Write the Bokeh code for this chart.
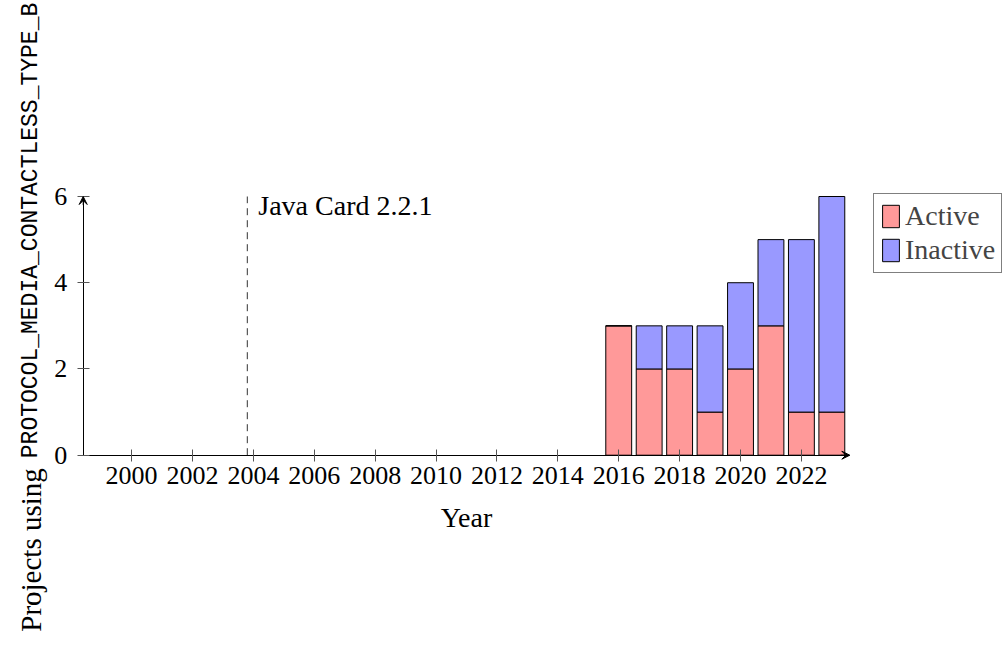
import math
from bokeh.plotting import figure
from bokeh.models import (ColumnDataSource, FixedTicker, Label, Legend, LegendItem,
                          Arrow, VeeHead, Range1d)
from bokeh.embed import file_html
from bokeh.resources import INLINE

# ---- data ----
years = [2016, 2017, 2018, 2019, 2020, 2021, 2022, 2023]
active = [3, 2, 2, 1, 2, 3, 1, 1]
inactive = [0, 1, 1, 2, 2, 2, 4, 5]
series_names = ["Active", "Inactive"]
series_colors = ["#ff9999", "#9999ff"]
x_ticks = list(range(2000, 2023, 2))
y_ticks = [0, 2, 4, 6]
event_year = [2003.8]
event_label = "Java Card 2.2.1"
x_label = "Year"
y_label_text = "Projects using"
y_label_code = "PROTOCOL_MEDIA_CONTACTLESS_TYPE_B"
x_min, x_max = 1998.41, 2023.59
y_min, y_max = 0, 6

# ---- layout (pixels) ----
W, H = 1008, 648
AX_L, AX_R, AX_T, AX_B = 82.7, 849.3, 196.0, 454.7
sx = (AX_R - AX_L) / (x_max - x_min)
sy = (AX_B - AX_T) / (y_max - y_min)
view_x = (x_min - AX_L / sx, x_min + (W - AX_L) / sx)
view_y = (y_min - (H - AX_B) / sy, y_max + AX_T / sy)

SERIF = "Liberation Serif"
MONO = "Liberation Mono"
FS = "28px"

p = figure(width=W, height=H, output_backend="svg", toolbar_location=None,
           x_range=Range1d(*view_x), y_range=Range1d(*view_y), min_border=0)
p.outline_line_color = None
p.grid.visible = False
p.background_fill_color = "white"
p.border_fill_color = "white"

src = ColumnDataSource(dict(year=years, Active=active, Inactive=inactive))
rs = p.vbar_stack(series_names, x="year", width=0.85, fill_color=series_colors,
                  line_color="black", line_width=1, source=src)

# event line
p.segment(x0=event_year, y0=[y_min], x1=event_year, y1=[y_max],
          line_color="#333333", line_width=1, line_dash="7 5")
p.add_layout(Label(x=event_year[0], y=y_max, x_offset=11, y_offset=-9, text=event_label,
                   text_font=SERIF, text_font_size=FS, text_align="left",
                   text_baseline="alphabetic", text_color="black"))

# axes at fixed locations
p.xaxis.ticker = FixedTicker(ticks=x_ticks)
p.yaxis.ticker = FixedTicker(ticks=y_ticks)
p.xaxis.axis_label = x_label
p.xaxis.fixed_location = y_min
p.yaxis.fixed_location = x_min
p.xaxis.bounds = (x_min, x_max)
p.yaxis.bounds = (y_min, y_max)
for ax in (p.xaxis[0], p.yaxis[0]):
    ax.major_label_text_font = SERIF
    ax.major_label_text_font_size = "26px"
    ax.major_label_text_color = "black"
    ax.axis_label_text_font = SERIF
    ax.axis_label_text_font_size = FS
    ax.axis_label_text_font_style = "normal"
    ax.axis_label_text_color = "black"
    ax.major_tick_in = 6
    ax.major_tick_out = 6
    ax.minor_tick_line_color = None
    ax.axis_line_color = "black"
    ax.axis_line_width = 1
    ax.major_tick_line_color = "#555555"
p.xaxis.major_label_standoff = 6
p.xaxis.axis_label_standoff = 14
p.yaxis.major_label_standoff = 10

# axis arrows
p.add_layout(Arrow(end=VeeHead(size=8, fill_color="black", line_color="black"),
                   x_start=x_max - 0.3, y_start=y_min, x_end=x_max, y_end=y_min,
                   line_width=1, line_color="black"))
p.add_layout(Arrow(end=VeeHead(size=8, fill_color="black", line_color="black"),
                   x_start=x_min, y_start=y_max - 0.2, x_end=x_min, y_end=y_max,
                   line_width=1, line_color="black"))

# y label in two fonts
p.add_layout(Label(x=x_min, y=y_min, x_offset=-52, y_offset=-3, angle=math.pi / 2,
                   text=y_label_code, text_font=MONO, text_font_size="23px",
                   text_align="left", text_baseline="alphabetic", text_color="black"))
p.add_layout(Label(x=x_min, y=y_min, x_offset=-52, y_offset=-13, angle=math.pi / 2,
                   text=y_label_text, text_font=SERIF, text_font_size="29px",
                   text_align="right", text_baseline="alphabetic", text_color="black"))

legend = Legend(items=[LegendItem(label=n, renderers=[r]) for n, r in zip(series_names, rs)],
                location=(873, 375), border_line_color="black", border_line_width=1,
                padding=6, spacing=2, margin=0, glyph_width=21, glyph_height=28,
                label_text_font=SERIF, label_text_font_size=FS, label_standoff=4,
                background_fill_alpha=1.0)
p.add_layout(legend)

open("out.html", "w").write(file_html(p, INLINE))
